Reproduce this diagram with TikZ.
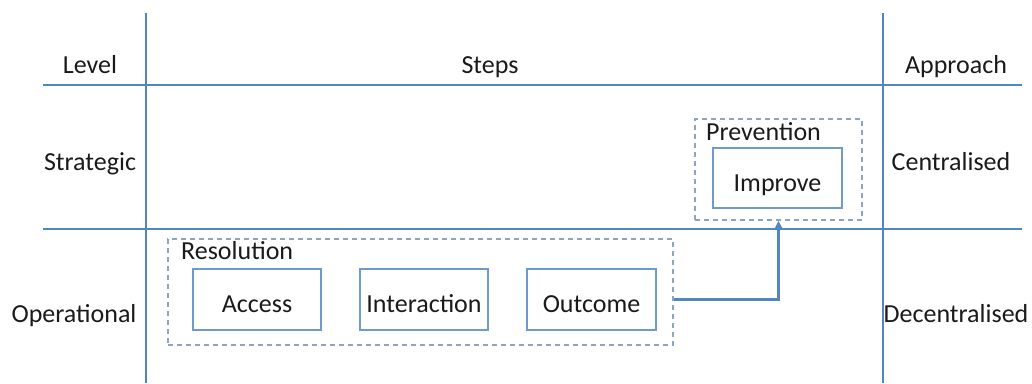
\documentclass[tikz,border=0pt]{standalone}
\usepackage{fontspec}
\setmainfont{Carlito}
\usetikzlibrary{arrows.meta}
\definecolor{gridblue}{HTML}{5286C3}
\definecolor{boxblue}{HTML}{7099CC}
\definecolor{dashblue}{HTML}{8AA3C8}
\definecolor{txt}{HTML}{1A1A1A}
\tikzset{
  gridline/.style={draw=gridblue, line width=2.8pt},
  lbl/.style={anchor=base, text=txt, font=\fontsize{26}{31}\selectfont, inner sep=0pt},
  stepbox/.style={draw=boxblue, line width=1.5pt, rectangle, inner sep=0pt, text=txt,
    font=\fontsize{26}{31}\selectfont, text height=26pt, text depth=0pt},
  group/.style={draw=dashblue, line width=1.6pt, dash pattern=on 5pt off 4pt, rectangle, inner sep=0pt},
  flow/.style={draw=gridblue, line width=3pt, -{Stealth[length=9pt,width=9pt]}}
}
\begin{document}
\begin{tikzpicture}[x=1pt,y=-1pt]
\useasboundingbox (0,0) rectangle (1032,383);
% grid
\coordinate (v1t) at (146,13);
\coordinate (v1b) at (146,383);
\coordinate (v2t) at (883,13);
\coordinate (v2b) at (883,383);
\coordinate (h1l) at (43,85);
\coordinate (h1r) at (1022,85);
\coordinate (h2l) at (43,229);
\coordinate (h2r) at (1022,229);
\draw[gridline] (v1t) -- (v1b);
\draw[gridline] (v2t) -- (v2b);
\draw[gridline] (h1l) -- (h1r);
\draw[gridline] (h2l) -- (h2r);
% headers
\node[lbl] (level) at (90,73) {Level};
\node[lbl] (steps) at (490,73) {Steps};
\node[lbl] (approach) at (956,73) {Approach};
\node[lbl] (strategic) at (90,170) {Strategic};
\node[lbl] (central) at (951,170) {Centralised};
\node[lbl] (operational) at (74,322) {Operational};
\node[lbl] (decentral) at (956,322) {Decentralised};
% groups
\node[group, minimum width=167pt, minimum height=101pt] (prev) at (778.5,169.5) {};
\node[lbl, anchor=base west] (prevlbl) at (706,140) {Prevention};
\node[group, minimum width=505pt, minimum height=106pt] (res) at (420.5,292) {};
\node[lbl, anchor=base west] (reslbl) at (181,259) {Resolution};
% steps
\node[stepbox, minimum width=129pt, minimum height=60pt] (improve) at (777.5,178) {Improve};
\node[stepbox, minimum width=128pt, minimum height=61pt] (access) at (257,299.5) {Access};
\node[stepbox, minimum width=128pt, minimum height=61pt] (interaction) at (424,299.5) {Interaction};
\node[stepbox, minimum width=129pt, minimum height=61pt] (outcome) at (591.5,299.5) {Outcome};
% connector
\draw[flow] (outcome.east -| res.east) -| (prev.south);
\end{tikzpicture}
\end{document}
